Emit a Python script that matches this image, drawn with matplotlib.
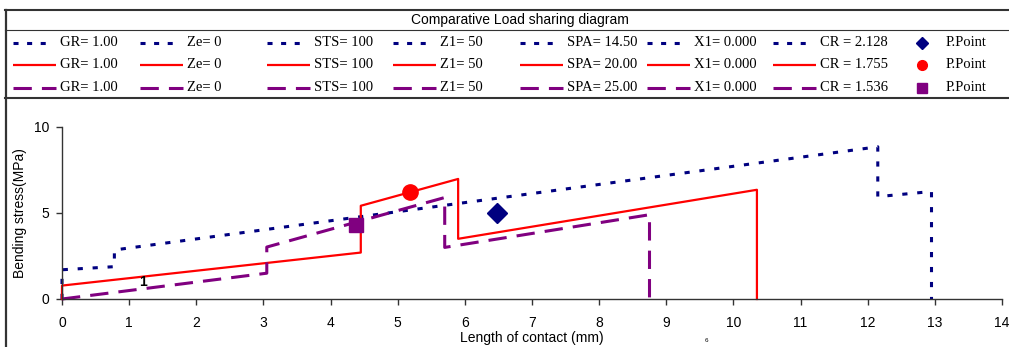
import matplotlib.pyplot as plt

# series: contact length (mm) vs bending stress (MPa)
blue_x = [0, 0, 0.78, 0.78, 12.15, 12.15, 12.95, 12.95]
blue_y = [0, 1.7, 1.88, 2.85, 8.85, 5.95, 6.25, 0]
red_x = [0, 0, 4.45, 4.45, 5.9, 5.9, 10.35, 10.35]
red_y = [0, 0.78, 2.7, 5.42, 6.98, 3.5, 6.35, 0]
purple_x = [0, 3.05, 3.05, 5.7, 5.7, 8.75, 8.75]
purple_y = [0, 1.5, 3.02, 5.9, 3.0, 4.9, 0]

# pitch points
pp_x = [6.48, 5.18, 4.38]
pp_y = [5.0, 6.2, 4.3]

# legend table labels
gr = ["1.00", "1.00", "1.00"]
ze = ["0", "0", "0"]
sts = ["100", "100", "100"]
z1 = ["50", "50", "50"]
spa = ["14.50", "20.00", "25.00"]
x1 = ["0.000", "0.000", "0.000"]
cr = ["2.128", "1.755", "1.536"]

colors = ["#000080", "#FF0000", "#800080"]
plot_styles = [dict(ls=(0, (1.7, 3.2)), lw=2.2),
               dict(ls="-", lw=1.6),
               dict(ls=(0, (6, 3.3)), lw=2.2)]
leg_styles = [dict(ls=(0, (1.65, 2.8)), lw=2.2),
              dict(ls="-", lw=1.6),
              dict(ls=(0, (6, 3.3)), lw=2.2)]
leg_len = [34, 43, 43]
pp_markers = [("D", 10), ("o", 11), ("s", 10.5)]
leg_markers = [("D", 6), ("o", 7), ("s", 6.5)]

serif = "Liberation Serif"
sans = "Liberation Sans"

fig = plt.figure(figsize=(10.09, 3.47), dpi=100)

# overlay in pixel coordinates for the legend table
ov = fig.add_axes([0, 0, 1, 1], zorder=0)
ov.set_xlim(0, 1009)
ov.set_ylim(347, 0)
ov.axis("off")
frame = "#333333"
ov.plot([5, 1009], [10, 10], color=frame, lw=1.5)
ov.plot([5, 1009], [30, 30], color=frame, lw=0.8)
ov.plot([5, 1009], [98, 98], color=frame, lw=1.5)
ov.plot([6, 6], [10, 347], color=frame, lw=1.6)
ov.text(520, 20, "Comparative Load sharing diagram", ha="center", va="center",
        fontsize=10, family=sans)

col_x = [13, 140, 267, 393, 520, 647, 773]
row_y = [42.5, 64.5, 87.5]
for i in range(3):
    labels = ["GR= " + gr[i], "Ze= " + ze[i], "STS= " + sts[i], "Z1= " + z1[i],
              "SPA= " + spa[i], "X1= " + x1[i], "CR = " + cr[i]]
    for cx, lab in zip(col_x, labels):
        ov.plot([cx, cx + leg_len[i]], [row_y[i], row_y[i]], color=colors[i],
                dash_capstyle="butt", solid_capstyle="butt", **leg_styles[i])
        ov.text(cx + 47, row_y[i], lab, ha="left", va="center",
                fontsize=10.5, family=serif)
    m, ms = leg_markers[i]
    ov.plot([922], [row_y[i]], marker=m, ms=ms, color=colors[i], ls="none")
    ov.text(946, row_y[i], "P.Point", ha="left", va="center",
            fontsize=10.5, family=serif)

ov.text(706, 340, "6", ha="center", va="center", fontsize=4.5, family=sans)

# main chart
ax = fig.add_axes([62 / 1009, 48 / 347, 940 / 1009, 172 / 347], zorder=1)
ax.patch.set_alpha(0)
for i, (xs, ys) in enumerate([(blue_x, blue_y), (red_x, red_y), (purple_x, purple_y)]):
    ax.plot(xs, ys, color=colors[i], dash_capstyle="butt", clip_on=False, **plot_styles[i])
for i in range(3):
    m, ms = pp_markers[i]
    ax.plot(pp_x[i], pp_y[i], marker=m, ms=ms, color=colors[i], ls="none", zorder=5)

ax.text(1.2, 0.97, "1", fontsize=10, fontweight="bold", family=sans,
        ha="center", va="center")

ax.set_xlim(0, 14)
ax.set_ylim(0, 10)
ax.set_xticks(range(0, 15))
ax.set_yticks([0, 5, 10])
ax.spines["top"].set_visible(False)
ax.spines["right"].set_visible(False)
for s in ["left", "bottom"]:
    ax.spines[s].set_color("#333333")
    ax.spines[s].set_linewidth(1.0)
ax.tick_params(direction="out", length=4, width=1, color="#333333", labelsize=10)
ax.tick_params(axis="x", pad=8)
ax.tick_params(axis="y", pad=5)
for lab in ax.get_xticklabels() + ax.get_yticklabels():
    lab.set_family(sans)
ax.set_xlabel("Length of contact (mm)", fontsize=10, family=sans, labelpad=1)
ax.set_ylabel("Bending stress(MPa)", fontsize=10, family=sans, labelpad=5)

fig.savefig("out.png", dpi=100)
